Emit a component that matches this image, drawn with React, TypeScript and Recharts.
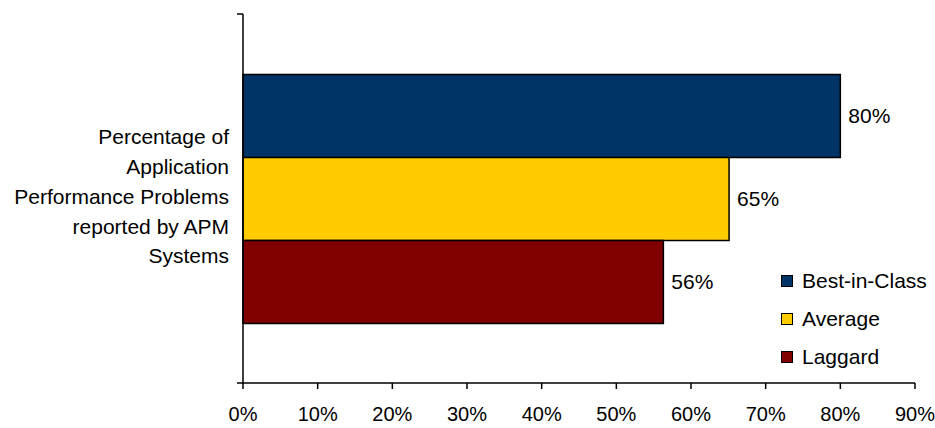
import React from "react";
import * as R from "recharts";
import { BarChart, Bar, XAxis, YAxis, LabelList } from "recharts";

const categories = ["Percentage of Application Performance Problems reported by APM Systems"];
const categoryLines = ["Percentage of", "Application", "Performance Problems", "reported by APM", "Systems"];
const seriesNames = ["Best-in-Class", "Average", "Laggard"];
const seriesValues = [80, 65.1, 56.3];
const seriesColors = ["#003366", "#FFCC00", "#800000"];
const xTicks = [0, 10, 20, 30, 40, 50, 60, 70, 80, 90];

const data = categories.map((c) => {
  const row: Record<string, string | number> = { category: c };
  seriesNames.forEach((s, i) => (row[s] = seriesValues[i]));
  return row;
});

const FONT = "'Liberation Sans', Arial, sans-serif";
const FS = 21;

// Excel-style tick marks at the ends of the category axis
function FrameTicks() {
  const hook: any = (R as any).usePlotArea ?? (R as any).useOffset;
  const area = hook ? hook() : null;
  if (!area) return null;
  const x = area.x ?? area.left;
  const top = area.y ?? area.top;
  const bottom = top + area.height;
  return (
    <g stroke="#000" strokeWidth={1.5}>
      <line x1={x - 6} x2={x} y1={top} y2={top} />
      <line x1={x - 6} x2={x} y1={bottom} y2={bottom} />
    </g>
  );
}

function CategoryTick(props: any) {
  const { x, y } = props;
  const lh = 29.75;
  const start = y - 2 - ((categoryLines.length - 1) * lh) / 2;
  return (
    <text x={x - 6} y={start} textAnchor="end" fontSize={FS} fontFamily={FONT} fill="#000">
      {categoryLines.map((l, i) => (
        <tspan key={i} x={x - 6} y={start + i * lh} dy="0.35em">
          {l}
        </tspan>
      ))}
    </text>
  );
}

function Legend() {
  return (
    <div style={{ position: "absolute", left: 781, top: 262, fontFamily: FONT, fontSize: FS }}>
      {seriesNames.map((s, i) => (
        <div key={s} style={{ display: "flex", alignItems: "center", height: 38 }}>
          <span
            style={{
              width: 10,
              height: 10,
              background: seriesColors[i],
              border: "1px solid #000",
              marginRight: 9,
            }}
          />
          <span>{s}</span>
        </div>
      ))}
    </div>
  );
}

export default function App() {
  return (
    <div style={{ position: "absolute", left: 0, top: 0, width: 935, height: 428, background: "#fff" }}>
      <BarChart
        width={935}
        height={428}
        data={data}
        layout="vertical"
        margin={{ top: 14, right: 20, bottom: 0, left: 0 }}
        barCategoryGap="16.4%"
        barGap={0}
      >
        <XAxis
          type="number"
          domain={[0, 90]}
          ticks={xTicks}
          tickFormatter={(v) => `${v}%`}
          height={45}
          axisLine={{ stroke: "#000", strokeWidth: 1.5 }}
          tickLine={{ stroke: "#000", strokeWidth: 1.5 }}
          tickSize={6}
          tickMargin={18}
          tick={{ fill: "#000", fontSize: 20, fontFamily: FONT }}
          interval={0}
        />
        <YAxis
          type="category"
          dataKey="category"
          width={243}
          axisLine={{ stroke: "#000", strokeWidth: 1.5 }}
          tickLine={false}
          tick={<CategoryTick />}
        />
        {seriesNames.map((s, i) => (
          <Bar
            key={s}
            dataKey={s}
            fill={seriesColors[i]}
            stroke="#000"
            strokeWidth={1.5}
            isAnimationActive={false}
          >
            <LabelList
              dataKey={s}
              position="right"
              offset={8}
              formatter={(v: any) => `${Math.round(v)}%`}
              style={{ fill: "#000", fontSize: FS, fontFamily: FONT }}
            />
          </Bar>
        ))}
        <FrameTicks />
      </BarChart>
      <Legend />
    </div>
  );
}
